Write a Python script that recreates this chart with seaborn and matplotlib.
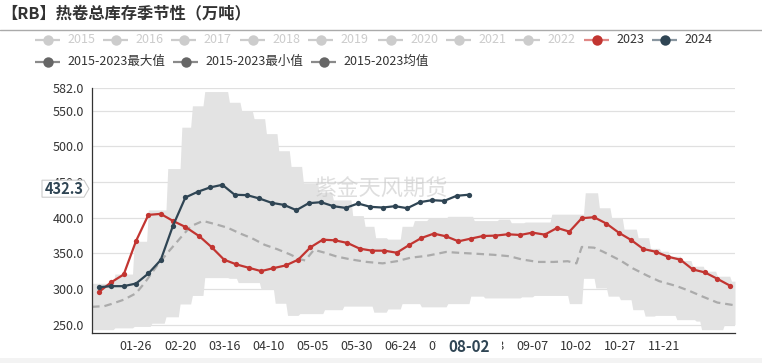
import numpy as np
import pandas as pd
import matplotlib
matplotlib.use("Agg")
import matplotlib.pyplot as plt
import matplotlib.dates as mdates
from matplotlib.lines import Line2D
from matplotlib.patches import Polygon, Rectangle
from matplotlib.ticker import FormatStrFormatter
import seaborn as sns

# ---------------- data ----------------
title = "【RB】热卷总库存季节性（万吨）"

dates_2023 = pd.date_range("2023-01-05", periods=52, freq="7D")
vals_2023 = [296.0, 309.6, 320.4, 367.4, 404.0, 405.4, 395.5, 387.1, 373.9, 358.5, 341.1, 334.5, 329.8,
             325.1, 329.3, 333.1, 341.1, 358.5, 369.2, 368.3, 364.6, 356.6, 353.8, 353.8, 350.9, 361.7,
             371.6, 377.7, 373.9, 366.9, 370.7, 374.4, 374.9, 376.8, 375.8, 379.1, 376.3, 385.7, 380.5,
             399.3, 400.7, 391.8, 379.1, 368.8, 356.1, 352.3, 345.3, 341.1, 327.5, 323.2, 314.3, 304.9]

dates_2024 = pd.date_range("2024-01-05", "2024-08-02", freq="7D")
vals_2024 = [302.6, 304.0, 304.0, 307.7, 321.8, 340.6, 389.0, 428.4, 436.4, 442.5, 446.2, 432.2, 431.7,
             427.0, 420.9, 418.0, 410.6, 420.4, 421.8, 416.2, 413.8, 420.0, 415.3, 414.3, 416.2, 413.4,
             421.8, 424.6, 423.7, 430.8, 432.3]

mean_dates = ['01-01', '01-08', '01-12', '01-19', '01-26', '01-31', '02-07', '02-14', '02-21', '02-26',
              '03-04', '03-11', '03-18', '03-25', '04-01', '04-08', '04-15', '04-22', '04-28', '05-01',
              '05-06', '05-12', '05-19', '05-27', '06-05', '06-14', '06-22', '06-30', '07-09', '07-20',
              '07-26', '08-06', '08-16', '08-25', '09-01', '09-10', '09-19', '09-27', '10-02', '10-05',
              '10-12', '10-17', '10-27', '11-03', '11-11', '11-18', '11-28', '12-05', '12-13', '12-21', '12-30']
mean_vals = [275, 276, 279, 285, 294, 309, 333, 354, 374, 388,
             395.5, 391, 386, 378, 371, 362, 356, 349, 342, 340,
             355, 351, 345.5, 341.5, 338, 336, 339, 344, 346.5, 352,
             351, 349.5, 348, 346, 341.5, 338, 338, 339, 336, 359,
             358, 352.5, 340, 329, 319, 311, 304, 297.5, 289, 281, 277.5]

upper_dates = ['01-01', '01-14', '01-25', '02-02', '02-13', '02-21', '02-27', '03-05', '03-19', '03-26',
               '04-02', '04-09', '04-16', '04-23', '04-30', '05-09', '05-17', '05-28', '06-04', '06-10',
               '06-17', '06-25', '07-02', '07-10', '07-21', '08-05', '08-19', '08-26', '09-03', '09-18',
               '10-07', '10-15', '10-22', '10-29', '11-06', '11-13', '11-19', '11-24', '12-01', '12-07',
               '12-14', '12-21', '12-29']
upper_vals = [308, 321, 367, 411, 469, 527, 557, 577, 562, 550,
              539, 518, 494, 472, 449, 436, 425, 403, 388, 372,
              370, 388, 396, 399, 402, 396, 398, 393, 394, 405,
              435, 414, 400, 384, 372, 357, 353, 346, 340, 332,
              325, 318, 311]

lower_dates = ['01-01', '01-14', '01-25', '02-04', '02-12', '02-20', '02-27', '03-05', '03-19', '03-24',
               '04-06', '04-14', '04-21', '04-28', '05-12', '05-23', '06-09', '06-17', '06-25', '07-06',
               '07-21', '08-03', '08-11', '09-01', '09-08', '09-28', '10-06', '10-13', '10-20', '10-27',
               '11-03', '11-10', '11-16', '11-28', '12-09', '12-12', '12-25']
lower_vals = [243, 245.5, 247.5, 252, 261, 279, 291, 316, 315, 309,
              299.5, 280, 263, 265.5, 271, 276, 267.5, 272, 279.5, 275,
              279.5, 290, 287.5, 289, 291, 279.5, 315, 301.5, 290, 285,
              271, 262, 263, 257, 255, 243, 250]

y_ticks = [250, 300, 350, 400, 450, 500, 550, 582]
y_min, y_max = 238.3, 582
tick_labels_x = pd.date_range("2024-01-26", periods=13, freq="25D")

legend_row1 = ['2015', '2016', '2017', '2018', '2019', '2020', '2021', '2022', '2023', '2024']
legend_row2 = ['2015-2023最大值', '2015-2023最小值', '2015-2023均值']
pointer_date = pd.Timestamp("2024-08-02")
pointer_value = 432.3
watermark = "紫金天风期货"

# ---------------- style ----------------
sns.set_theme(style="white")
plt.rcParams['font.family'] = ['Noto Sans CJK SC', 'DejaVu Sans']

C_RED = "#c23531"
C_DARK = "#2f4554"
C_BAND = "#e3e3e3"
C_MEAN = "#ababab"

W, H = 762, 363
fig = plt.figure(figsize=(W / 100, H / 100), dpi=100)


def fx(px):
    return px / W


def fy(py):
    return 1 - py / H


ax = fig.add_axes([fx(92), fy(333), (735 - 92) / W, (333 - 88) / H])


def to_2024(mmdd):
    return pd.to_datetime(["2024-" + s for s in mmdd])


# band (max/min): values held constant between the read change dates, on a daily axis
end = pd.Timestamp("2024-12-31")
days = pd.date_range("2024-01-01", end, freq="D")
up_d = pd.Series(upper_vals, index=to_2024(upper_dates)).reindex(days).ffill()
lo_d = pd.Series(lower_vals, index=to_2024(lower_dates)).reindex(days).ffill()
ax.fill_between(days, lo_d.values, up_d.values, color=C_BAND, lw=0, zorder=1)

# watermark
ax.text(fx(381), fy(189), watermark, transform=fig.transFigure, fontsize=16,
        color="#c4c4c4", alpha=0.55, ha="center", va="center", zorder=1.5)

# mean line
mean_df = pd.DataFrame({"date": to_2024(mean_dates), "value": mean_vals})
sns.lineplot(data=mean_df, x="date", y="value", ax=ax, color=C_MEAN, lw=1.6,
             linestyle=(0, (3.4, 2.2)), legend=False, zorder=2)

# 2023
d23 = pd.DataFrame({"date": pd.to_datetime(dates_2023.strftime("2024-%m-%d")), "value": vals_2023})
sns.lineplot(data=d23, x="date", y="value", ax=ax, color=C_RED, lw=1.6, marker="o",
             markersize=3.8, markeredgewidth=0, legend=False, zorder=3)

# 2024
d24 = pd.DataFrame({"date": dates_2024, "value": vals_2024})
sns.lineplot(data=d24, x="date", y="value", ax=ax, color=C_DARK, lw=1.6, marker="o",
             markersize=3.8, markeredgewidth=0, legend=False, zorder=4)

# axes formatting
ax.set_xlim(pd.Timestamp("2024-01-01"), end)
ax.set_ylim(y_min, y_max)
ax.set_xlabel("")
ax.set_ylabel("")
ax.set_yticks(y_ticks)
ax.yaxis.set_major_formatter(FormatStrFormatter("%.1f"))
ax.set_xticks(tick_labels_x)
ax.set_xticklabels([d.strftime("%m-%d") for d in tick_labels_x])
ax.xaxis.set_minor_locator(matplotlib.ticker.NullLocator())
ax.tick_params(axis="both", length=3.6, width=0.8, color="#333333", labelsize=9,
               labelcolor="#333333", direction="out")
ax.tick_params(axis="y", pad=2)
ax.tick_params(axis="x", pad=1.5)
ax.grid(False)
ax.yaxis.grid(True, color="#e0e0e0", lw=0.9)
ax.set_axisbelow(True)
for s in ["top", "right"]:
    ax.spines[s].set_visible(False)
for s in ["left", "bottom"]:
    ax.spines[s].set_color("#333333")
    ax.spines[s].set_linewidth(0.9)

# title and separator
fig.text(fx(1), fy(13), title, fontsize=11.7, fontweight="bold", color="#333333",
         ha="left", va="center")
fig.add_artist(Line2D([0, 1], [fy(29.5), fy(29.5)], transform=fig.transFigure,
                      color="#aaaaaa", lw=1))


# legend (manual, echarts-like)
def legend_item(x, y, label, line_c, mark_c, text_c):
    fig.add_artist(Line2D([fx(x), fx(x + 25)], [fy(y), fy(y)], transform=fig.transFigure,
                          color=line_c, lw=1.6, solid_capstyle="butt"))
    fig.add_artist(Line2D([fx(x + 12.5)], [fy(y)], transform=fig.transFigure, marker="o",
                          ms=7.5, color=mark_c, mew=0, lw=0))
    fig.text(fx(x + 32), fy(y), label, fontsize=9, color=text_c, ha="left", va="center")


row1_x = [35, 103, 171, 240, 308, 378, 446, 515, 584, 652]
for lab, x in zip(legend_row1, row1_x):
    if lab == "2023":
        legend_item(x, 39.5, lab, "#e08886", C_RED, "#333333")
    elif lab == "2024":
        legend_item(x, 39.5, lab, "#8996a0", C_DARK, "#333333")
    else:
        legend_item(x, 39.5, lab, "#cccccc", "#cccccc", "#cccccc")

row2_x = [35, 173, 311]
for lab, x in zip(legend_row2, row2_x):
    legend_item(x, 61.5, lab, "#8a8a8a", "#666666", "#333333")

# bottom strip (slider background)
fig.add_artist(Rectangle((0, 0), 1, fy(357.5), transform=fig.transFigure,
                         color="#f3f3f3", lw=0, zorder=0))

# pointer labels
fig.canvas.draw()
yp = ax.get_yaxis_transform().transform((0, pointer_value))[1]
cy = H - yp - 6
box = Polygon([(fx(42), fy(cy - 8.5)), (fx(84), fy(cy - 8.5)), (fx(89), fy(cy)),
               (fx(84), fy(cy + 8.5)), (fx(42), fy(cy + 8.5))], closed=True,
              transform=fig.transFigure, fc="white", ec="#cccccc", lw=0.8,
              clip_on=False, zorder=10)
ax.add_patch(box)
ax.text(fx(64), fy(cy), f"{pointer_value:.1f}", transform=fig.transFigure, fontsize=10.5,
        fontweight="bold", color=C_DARK, ha="center", va="center", zorder=11, clip_on=False)

xp = ax.transData.transform((mdates.date2num(pointer_date), 0))[0]
rect = Rectangle((fx(xp - 33), fy(358)), 66 / W, 19 / H, transform=fig.transFigure,
                 fc="white", ec="none", clip_on=False, zorder=10)
ax.add_patch(rect)
ax.text(fx(xp), fy(347), pointer_date.strftime("%m-%d"), transform=fig.transFigure,
        fontsize=11, fontweight="bold", color=C_DARK, ha="center", va="center",
        zorder=11, clip_on=False)

fig.savefig("out.png", dpi=100)
